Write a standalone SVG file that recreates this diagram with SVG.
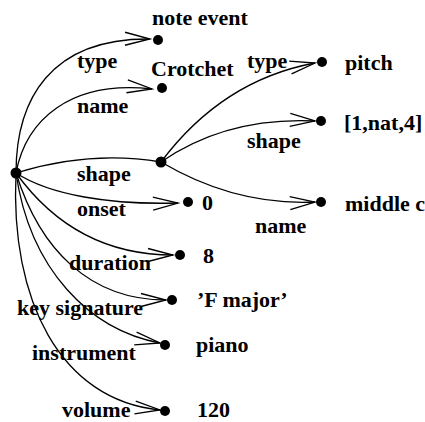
<svg xmlns="http://www.w3.org/2000/svg" width="425" height="422" viewBox="0 0 425 422" font-family="'Liberation Serif', 'Times New Roman', serif" font-weight="bold" font-size="22">
<style>
text{font-family:'Liberation Serif','Times New Roman',serif;font-weight:bold;font-size:22px;fill:#000}
.e{fill:none;stroke:#000;stroke-width:1.3}
.a{marker-end:url(#arr)}
.d{fill:#000}
</style>
<defs>
<marker id="arr" markerUnits="userSpaceOnUse" markerWidth="30" markerHeight="16" refX="25" refY="7" orient="auto" overflow="visible">
<path d="M0,0.5 L25,7 L0,13.5" fill="none" stroke="#000" stroke-width="1.3"/>
</marker>
</defs>
<rect width="425" height="422" fill="#fff"/>
<g id="connectors">
<path class="e a" d="M16,173 C16,100 50,38 150,39"/>
<path class="e a" d="M16,173 C26,120 70,80 152,89"/>
<path class="e" d="M16,173 Q90,150 161,162"/>
<path class="e a" d="M16,173 C50,195 110,205 178,203"/>
<path class="e a" d="M16,173 C50,220 100,255 173,255"/>
<path class="e a" d="M16,173 C40,250 90,300 166,300"/>
<path class="e a" d="M16,173 C30,270 90,330 160,343"/>
<path class="e a" d="M16,173 C10,300 60,400 160,410"/>
<path class="e a" d="M161,162 C200,110 250,75 315,63"/>
<path class="e a" d="M161,162 C200,135 250,118 315,121"/>
<path class="e a" d="M161,162 C200,185 250,205 315,202"/>
</g>
<g id="edge-labels">
<text x="77" y="68">type</text>
<text x="77" y="113">name</text>
<text x="77" y="181">shape</text>
<text x="77" y="216">onset</text>
<text x="69" y="270">duration</text>
<text x="17" y="315">key signature</text>
<text x="32" y="360">instrument</text>
<text x="62" y="417">volume</text>
<text x="247" y="68">type</text>
<text x="247" y="148">shape</text>
<text x="255" y="233">name</text>
</g>
<g id="root"><circle class="d" cx="16" cy="173" r="5.5"/></g>
<g id="note-event"><circle class="d" cx="158" cy="40" r="5"/><text x="152" y="25">note event</text></g>
<g id="crotchet"><circle class="d" cx="162" cy="88" r="5"/><text x="151" y="76">Crotchet</text></g>
<g id="shape-node"><circle class="d" cx="161" cy="162" r="5.5"/></g>
<g id="onset-0"><circle class="d" cx="188" cy="202" r="5"/><text x="202" y="210">0</text></g>
<g id="duration-8"><circle class="d" cx="180" cy="255" r="5"/><text x="203" y="263">8</text></g>
<g id="key-f-major"><circle class="d" cx="172" cy="300" r="5"/><text x="197" y="307">’F major’</text></g>
<g id="piano"><circle class="d" cx="165" cy="345" r="5"/><text x="196" y="352">piano</text></g>
<g id="volume-120"><circle class="d" cx="165" cy="411" r="5"/><text x="197" y="417">120</text></g>
<g id="pitch"><circle class="d" cx="322" cy="62" r="5"/><text x="345" y="70">pitch</text></g>
<g id="nat"><circle class="d" cx="321" cy="121" r="5"/><text x="344" y="130">[1,nat,4]</text></g>
<g id="middle-c"><circle class="d" cx="321" cy="202" r="5"/><text x="345" y="211">middle c</text></g>
</svg>
